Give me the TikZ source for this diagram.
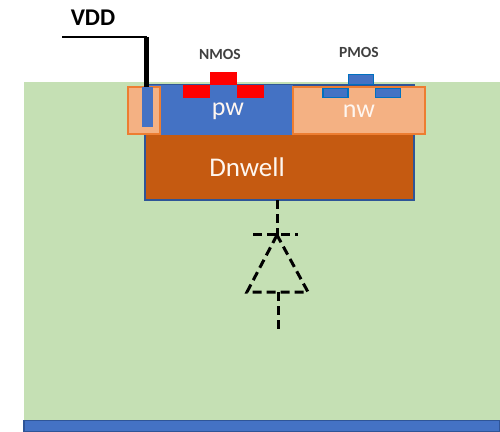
\documentclass[tikz,border=0pt]{standalone}
\usepackage{fontspec}
\setmainfont{Carlito}
\usepackage{xcolor}
\usetikzlibrary{positioning}
\definecolor{subgreen}{HTML}{C5E0B4}
\definecolor{wellblue}{HTML}{4472C4}
\definecolor{edgeblue}{HTML}{2F5597}
\definecolor{nworange}{HTML}{F4B183}
\definecolor{edgeorange}{HTML}{ED7D31}
\definecolor{dnbrown}{HTML}{C55A11}
\definecolor{contblue}{HTML}{0070C0}
\tikzset{
  reg/.style={anchor=north west, inner sep=0pt, outer sep=0pt},
  nplus/.style={inner sep=0pt, outer sep=0pt, fill=red, minimum width=27pt, minimum height=13pt},
  pplus/.style={draw=contblue, line width=1.5pt, inner sep=0pt, outer sep=0pt, fill=wellblue, minimum width=25pt, minimum height=9pt},
  well/.style={font=\fontsize{26}{26}\selectfont, text=white!88!nworange},
  dev/.style={font=\bfseries\fontsize{15.5}{15.5}\selectfont, text=black!75},
  dio/.style={dash pattern=on 9pt off 5pt, line width=3pt},
}
\begin{document}
\begin{tikzpicture}[x=1pt,y=-1pt]
\useasboundingbox (0,0) rectangle (500,431);
\node[reg, fill=subgreen, minimum width=476pt, minimum height=339pt] (sub) at (24,82) {};
\node[reg, fill=wellblue, draw=edgeblue, line width=1.5pt, minimum width=476pt, minimum height=11pt] (gnd) at (24,420.5) {};
\node[reg, fill=dnbrown, draw=edgeblue, line width=2pt, minimum width=269pt, minimum height=115pt] (dn) at (145,85) {};
\node[reg, fill=wellblue, minimum width=148pt, minimum height=50pt] (pw) at (145,85) {};
\node[reg, fill=nworange, draw=edgeorange, line width=2pt, minimum width=132pt, minimum height=47pt] (nw) at (293,87) {};
\node[reg, fill=nworange, draw=edgeorange, line width=2pt, minimum width=32pt, minimum height=47pt] (tap) at (128,87) {};
\node[reg, fill=wellblue, minimum width=11pt, minimum height=40pt] (tapc) at (142,87) {};
% transistors
\node[nplus] (ngate) at (223.5,78.5) {};
\node[nplus, below left=0pt and 0pt of ngate.south west] (nsrc) {};
\node[nplus, below right=0pt and 0pt of ngate.south east] (ndrn) {};
\node[pplus, minimum height=10pt] (pgate) at (361,79.5) {};
\node[pplus] (psrc) at (335.5,93) {};
\node[pplus] (pdrn) at (388,93) {};
% labels
\node[well] (pwl) at (228,111) {pw};
\node[well] (nwl) at (359,111) {nw};
\node[well, font=\fontsize{27}{27}\selectfont] (dnl) at (247,167) {Dnwell};
\node[dev] (nmos) at (220,54) {NMOS};
\node[dev] (pmos) at (359,52) {PMOS};
\node[font=\bfseries\fontsize{24}{24}\selectfont] (vddl) at (93,18) {VDD};
% wire
\coordinate (vdd) at (62,37);
\coordinate (bend) at (146.5,37);
\draw[line width=2.5pt] (vdd) -- (bend);
\draw[line width=5pt] (bend) -- (bend |- tapc.north);
% diode
\coordinate (apex) at (277,235);
\coordinate (barl) at (253,234);
\coordinate (barr) at (298,234);
\coordinate (basel) at (247,292);
\coordinate (baser) at (308,292);
\coordinate (stem) at (278,292);
\coordinate (stemend) at (278,330);
\draw[dio] (dn.south -| apex) -- (apex);
\draw[dio] (barl) -- (barr);
\draw[dio] (apex) -- (basel) -- (baser) -- cycle;
\draw[dio] (stem) -- (stemend);
\end{tikzpicture}
\end{document}
